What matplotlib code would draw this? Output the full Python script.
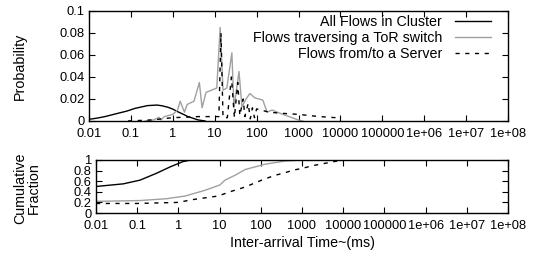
import matplotlib
matplotlib.use("Agg")
import matplotlib.pyplot as plt

plt.rcParams["font.family"] = ["Liberation Sans", "DejaVu Sans"]
plt.rcParams["font.size"] = 10

# top panel: probability (x in ms)
all_x = [0.01, 0.016, 0.024, 0.049, 0.08, 0.126, 0.25, 0.42, 0.56, 0.78, 1.0, 1.3, 1.8, 2.3, 4.0, 5.9]
all_p = [0.0015, 0.0027, 0.004, 0.007, 0.009, 0.0115, 0.014, 0.0145, 0.0138, 0.0124, 0.0108, 0.0085, 0.006, 0.004, 0.001, 0.0]

tor_x = [0.22, 0.35, 0.47, 0.52, 0.63, 1.0, 1.3, 1.5, 1.9, 2.2, 3.2, 4.3, 5.0, 6.2, 11.2, 13.5,
         15.8, 19.5, 25.7, 28.8, 38, 44.7, 56, 69, 91, 141, 178, 234, 363, 977, 1260]
tor_p = [0.0, 0.001, 0.0034, 0.001, 0.004, 0.006, 0.01, 0.018, 0.008, 0.015, 0.018, 0.035, 0.012, 0.026, 0.03, 0.085,
         0.028, 0.03, 0.062, 0.012, 0.045, 0.013, 0.02, 0.025, 0.021, 0.019, 0.008, 0.01, 0.007, 0.001, 0.0]

srv_x = [0.085, 0.32, 1.0, 4.0, 8.9, 12.6, 14.1, 15.8, 20, 25.1, 29.5, 35.5, 39.8, 47.9, 52.5, 63,
         70.8, 79.4, 89, 100, 126, 200, 400, 1000, 3160, 7940, 10000]
srv_p = [0.0, 0.001, 0.003, 0.004, 0.004, 0.004, 0.08, 0.003, 0.003, 0.04, 0.003, 0.035, 0.005, 0.02, 0.004, 0.016,
         0.002, 0.012, 0.003, 0.011, 0.01, 0.008, 0.007, 0.006, 0.004, 0.003, 0.0]

# bottom panel: CDF
all_cx = [0.01, 0.046, 0.117, 0.295, 0.63, 1.29, 2.0, 10000]
all_c = [0.50, 0.55, 0.62, 0.75, 0.87, 0.97, 1.0, 1.0]

tor_cx = [0.01, 0.117, 0.52, 1.45, 4.5, 10.2, 13.5, 23.4, 41.7, 126, 389, 1000, 10000]
tor_c = [0.22, 0.235, 0.27, 0.32, 0.43, 0.53, 0.62, 0.71, 0.82, 0.92, 0.98, 1.0, 1.0]

srv_cx = [0.01, 0.1, 1.0, 2.1, 9.1, 19.5, 41.7, 105, 219, 389, 617, 1000, 1740, 2750, 4790, 8300, 10000]
srv_c = [0.18, 0.18, 0.2, 0.25, 0.32, 0.41, 0.49, 0.62, 0.71, 0.76, 0.81, 0.84, 0.89, 0.92, 0.955, 0.99, 1.0]

xticks = [1e-2, 1e-1, 1, 10, 100, 1000, 1e4, 1e5, 1e6, 1e7, 1e8]
xlabels = ["0.01", "0.1", "1", "10", "100", "1000", "10000", "100000", "1e+06", "1e+07", "1e+08"]

fig = plt.figure(figsize=(5.43, 2.64), dpi=100)
ax1 = fig.add_axes([89 / 543, 1 - 121 / 264, 419 / 543, 110 / 264])
ax2 = fig.add_axes([96 / 543, 1 - 213 / 264, 412 / 543, 53 / 264])

gray = "#a0a0a0"
ax1.plot(all_x, all_p, color="black", lw=1, label="All Flows in Cluster")
ax1.plot(tor_x, tor_p, color=gray, lw=1, label="Flows traversing a ToR switch")
ax1.plot(srv_x, srv_p, color="black", lw=1, ls=(0, (3, 4)), label="Flows from/to a Server")
ax1.set_ylim(0, 0.1)
ax1.set_yticks([0, 0.02, 0.04, 0.06, 0.08, 0.1])
ax1.set_yticklabels(["0", "0.02", "0.04", "0.06", "0.08", "0.1"])

ax2.plot(all_cx, all_c, color="black", lw=1)
ax2.plot(tor_cx, tor_c, color=gray, lw=1)
ax2.plot(srv_cx, srv_c, color="black", lw=1, ls=(0, (3, 4)))
ax2.set_ylim(0, 1)
ax2.set_yticks([0, 0.2, 0.4, 0.6, 0.8, 1])
ax2.set_yticklabels(["0", "0.2", "0.4", "0.6", "0.8", "1"])

for ax in (ax1, ax2):
    ax.set_xscale("log")
    ax.set_xlim(1e-2, 1e8)
    ax.set_xticks(xticks)
    ax.set_xticklabels(xlabels)
    ax.minorticks_off()
    ax.tick_params(direction="in", top=True, right=True, length=4, width=0.8, pad=3,
                   labelsize=9.3)
    ax.tick_params(axis="x", pad=5)
    for s in ax.spines.values():
        s.set_linewidth(1)

ax1.legend(loc="upper right", bbox_to_anchor=(491 / 543, 1 - 15 / 264), bbox_transform=fig.transFigure,
           frameon=False, markerfirst=False, borderpad=0, borderaxespad=0, labelspacing=0.15,
           handlelength=2.5, handletextpad=0.9, fontsize=10.3)

fig.text(20 / 543, 1 - 66 / 264, "Probability", rotation=90, ha="center", va="center", fontsize=10.3)
fig.text(27 / 543, 1 - 188 / 264, "Cumulative\nFraction", rotation=90, ha="center", va="center",
         fontsize=10.3, linespacing=1.0)
fig.text(302 / 543, 1 - 243 / 264, "Inter-arrival Time~(ms)", ha="center", va="center", fontsize=10.3)

fig.savefig("out.png", dpi=100)
